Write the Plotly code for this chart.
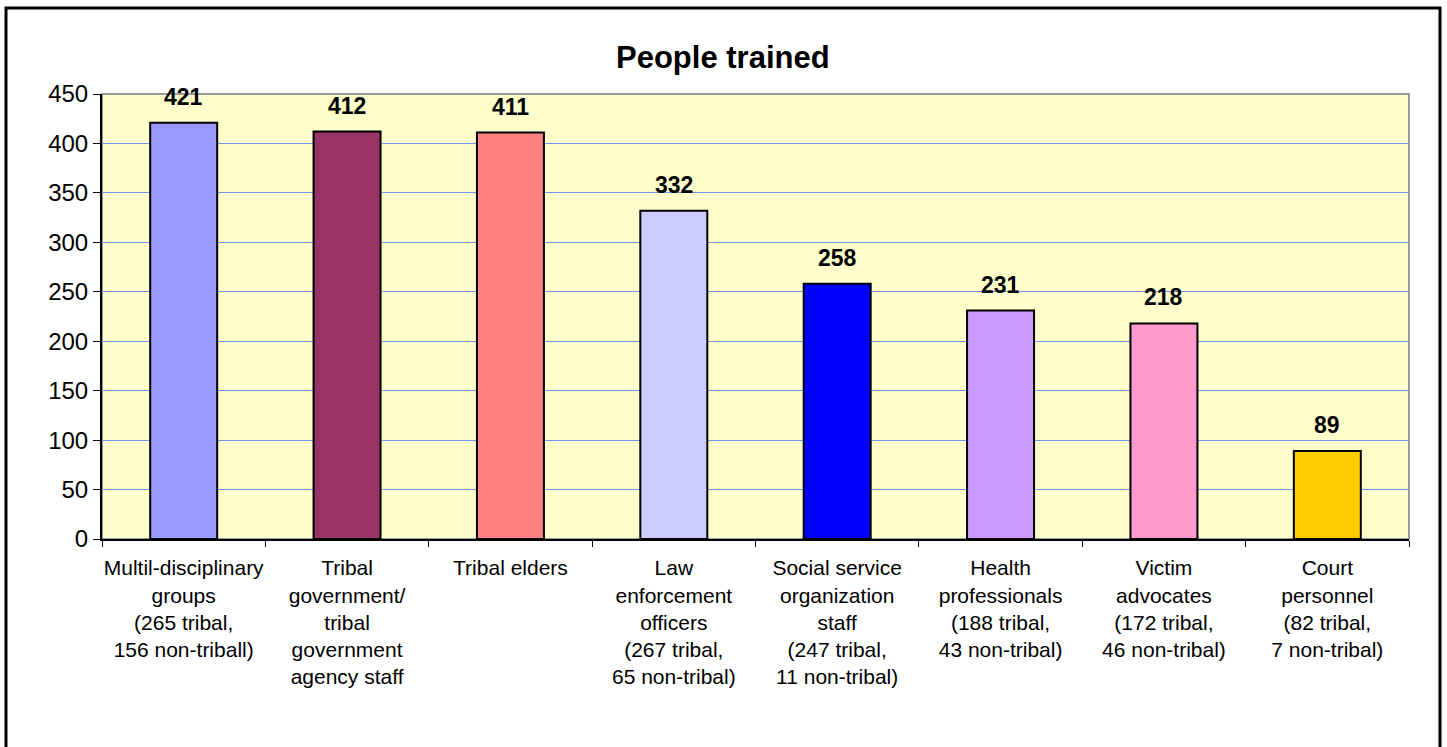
import plotly.graph_objects as go

categories = [
    "Multil-disciplinary<br>groups<br>(265 tribal,<br>156 non-triball)",
    "Tribal<br>government/<br>tribal<br>government<br>agency staff",
    "Tribal elders",
    "Law<br>enforcement<br>officers<br>(267 tribal,<br>65 non-tribal)",
    "Social service<br>organization<br>staff<br>(247 tribal,<br>11 non-tribal)",
    "Health<br>professionals<br>(188 tribal,<br>43 non-tribal)",
    "Victim<br>advocates<br>(172 tribal,<br>46 non-tribal)",
    "Court<br>personnel<br>(82 tribal,<br>7 non-tribal)",
]
values = [421, 412, 411, 332, 258, 231, 218, 89]
colors = ["#9999FF", "#993366", "#FF8080", "#CCCCFF", "#0000FF", "#CC99FF", "#FF99CC", "#FFCC00"]
title_text = "People trained"

W, H = 1447, 747
L, R, T, B = 102, 38, 94, 208
pw, ph = W - L - R, H - T - B

FONT = "Liberation Sans, Arial, sans-serif"

fig = go.Figure()
fig.add_trace(go.Bar(
    x=categories, y=values,
    marker=dict(color=colors, line=dict(color="black", width=2)),
    width=0.41,
    hoverinfo="skip",
))

annotations = []
for c, v in zip(categories, values):
    annotations.append(dict(
        x=c, y=v, xref="x", yref="y", text="<b>" + str(v) + "</b>", showarrow=False,
        yanchor="bottom", yshift=11,
        font=dict(family=FONT, size=23, color="black"),
    ))
annotations.append(dict(
    x=(723 - L) / pw, y=1 + (T - 58) / ph, xref="paper", yref="paper",
    text="<b>" + title_text + "</b>", showarrow=False,
    xanchor="center", yanchor="middle",
    font=dict(family=FONT, size=31, color="black"),
))

shapes = [
    # gray plot-area border (top/right)
    dict(type="rect", xref="paper", yref="paper", x0=0, x1=1, y0=0, y1=1,
         line=dict(color="#999999", width=2), layer="below"),
    # outer chart border
    dict(type="rect", xref="paper", yref="paper",
         x0=(6 - L) / pw, x1=(1440 - L) / pw,
         y0=-(760 - (H - B)) / ph,
         y1=1 + (T - 8) / ph,
         line=dict(color="black", width=3), layer="above"),
]

fig.update_layout(
    width=W, height=H,
    margin=dict(l=L, r=R, t=T, b=B),
    paper_bgcolor="white",
    plot_bgcolor="#FFFFCC",
    showlegend=False,
    annotations=annotations,
    shapes=shapes,
    font=dict(family=FONT, color="black"),
)
fig.update_xaxes(
    type="category",
    showline=True, linecolor="black", linewidth=2,
    ticks="outside", tickson="boundaries", ticklen=6, tickcolor="black", tickwidth=1,
    tickfont=dict(family=FONT, size=21, color="black"),
    tickangle=0,
    ticklabelstandoff=9,
    showgrid=False, fixedrange=True,
)
fig.update_yaxes(
    range=[0, 450], dtick=50,
    showline=True, linecolor="black", linewidth=2,
    ticks="outside", ticklen=7, tickcolor="black", tickwidth=1,
    tickfont=dict(family=FONT, size=24, color="black"),
    showgrid=True, gridcolor="#6F94E8", gridwidth=1,
    zeroline=False, fixedrange=True,
)

fig.write_html(
    "out.html",
    config={"displayModeBar": False, "staticPlot": True},
    post_script="document.body.style.margin='0';document.body.style.overflow='hidden';",
)
